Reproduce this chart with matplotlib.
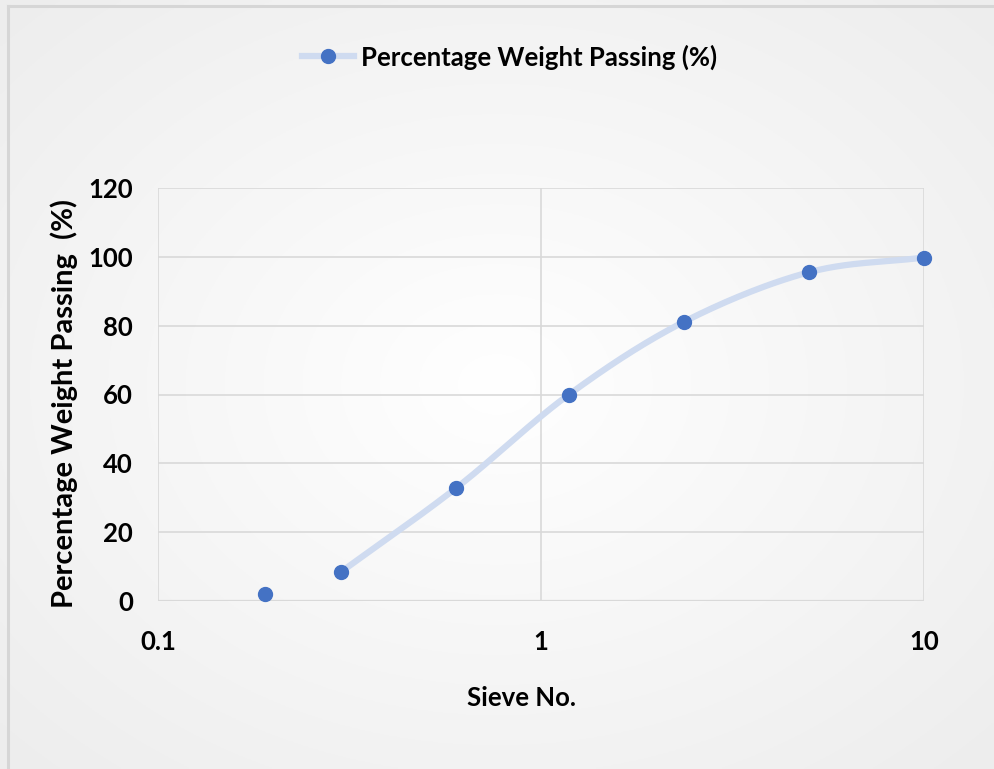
import numpy as np
import matplotlib.pyplot as plt
from matplotlib.lines import Line2D

# sieve sizes (mm) and cumulative percentage passing
sieve_size = [0.19, 0.3, 0.6, 1.18, 2.36, 5.0, 10.0]
pct_passing = [2.0, 8.4, 32.8, 59.9, 81.1, 95.5, 99.8]

x_ticks = [0.1, 1, 10]
x_tick_labels = ['0.1', '1', '10']
y_ticks = [0, 20, 40, 60, 80, 100, 120]

marker_col = '#4472c4'
line_col = '#cfdbf0'
grid_col = '#d9d9d9'

plt.rcParams['font.family'] = ['Lato', 'DejaVu Sans']
plt.rcParams['font.weight'] = 'bold'


def smooth_curve(xs, ys, n=40):
    # Catmull-Rom through the points, done in log-x space like a spreadsheet smoothed line
    lx = np.log10(xs)
    ys = np.asarray(ys, dtype=float)
    px = np.concatenate([[2 * lx[0] - lx[1]], lx, [2 * lx[-1] - lx[-2]]])
    py = np.concatenate([[2 * ys[0] - ys[1]], ys, [2 * ys[-1] - ys[-2]]])
    out_x, out_y = [], []
    t = np.linspace(0, 1, n)
    for i in range(1, len(px) - 2):
        for p, out in ((px, out_x), (py, out_y)):
            p0, p1, p2, p3 = p[i - 1], p[i], p[i + 1], p[i + 2]
            out.extend(0.5 * (2 * p1 + (-p0 + p2) * t
                              + (2 * p0 - 5 * p1 + 4 * p2 - p3) * t ** 2
                              + (-p0 + 3 * p1 - 3 * p2 + p3) * t ** 3))
    return 10 ** np.array(out_x), np.array(out_y)


fig = plt.figure(figsize=(9.94, 7.69), dpi=100)

# soft radial background
bg = fig.add_axes([0, 0, 1, 1], zorder=-5)
gx, gy = np.meshgrid(np.linspace(-1, 1, 400), np.linspace(-1, 1, 300))
r = np.clip(np.sqrt(gx ** 2 + gy ** 2) / 1.4, 0, 1)
shade = 1.0 - 0.07 * r
bg.imshow(np.dstack([shade, shade, shade]), aspect='auto', extent=[0, 1, 0, 1])
bg.axis('off')

# chart frame (only top and left edges fall inside the image)
fig.add_artist(Line2D([8 / 994, 8 / 994], [0, 1 - 6 / 769], transform=fig.transFigure,
                      color='#d6d6d6', lw=2.2))
fig.add_artist(Line2D([8 / 994, 1], [1 - 6 / 769, 1 - 6 / 769], transform=fig.transFigure,
                      color='#d6d6d6', lw=2.2))

ax = fig.add_axes([158 / 994, 1 - 601 / 769, 766 / 994, 413 / 769])
ax.set_facecolor('none')
ax.set_xscale('log')
ax.set_xlim(0.1, 10)
ax.set_ylim(0, 120)

cx, cy = smooth_curve(sieve_size[1:], pct_passing[1:])
ax.plot(cx, cy, color=line_col, lw=4.5, solid_capstyle='round', zorder=2)
ax.plot(sieve_size, pct_passing, 'o', color=marker_col, ms=10, zorder=3, clip_on=False)

ax.set_xticks(x_ticks)
ax.set_xticklabels(x_tick_labels)
ax.xaxis.set_minor_locator(plt.NullLocator())
ax.set_yticks(y_ticks)
ax.grid(True, which='major', color=grid_col, lw=1.2)
for s in ax.spines.values():
    s.set_visible(False)
ax.axhline(0, color=grid_col, lw=1.6, zorder=1)
ax.tick_params(length=0, labelsize=18.5, colors='black')
ax.tick_params(axis='x', pad=21)
ax.tick_params(axis='y', pad=18)

ax.set_xlabel('Sieve No.', fontsize=18.5, fontweight='bold')
ax.xaxis.set_label_coords(0.475, -0.205)
ax.set_ylabel('Percentage Weight Passing  (%)', fontsize=21, fontweight='bold')
ax.yaxis.set_label_coords(-0.104, 0.479)

handle = Line2D([], [], color=line_col, lw=4.5, marker='o', ms=10,
                markerfacecolor=marker_col, markeredgecolor=marker_col)
fig.legend([handle], ['Percentage Weight Passing (%)'], loc='center',
           bbox_to_anchor=(0.513, 1 - 57 / 769), frameon=False,
           prop={'size': 18.5, 'weight': 'bold'}, handlelength=2.0, handletextpad=0.3)

fig.savefig('out.png', dpi=100)
